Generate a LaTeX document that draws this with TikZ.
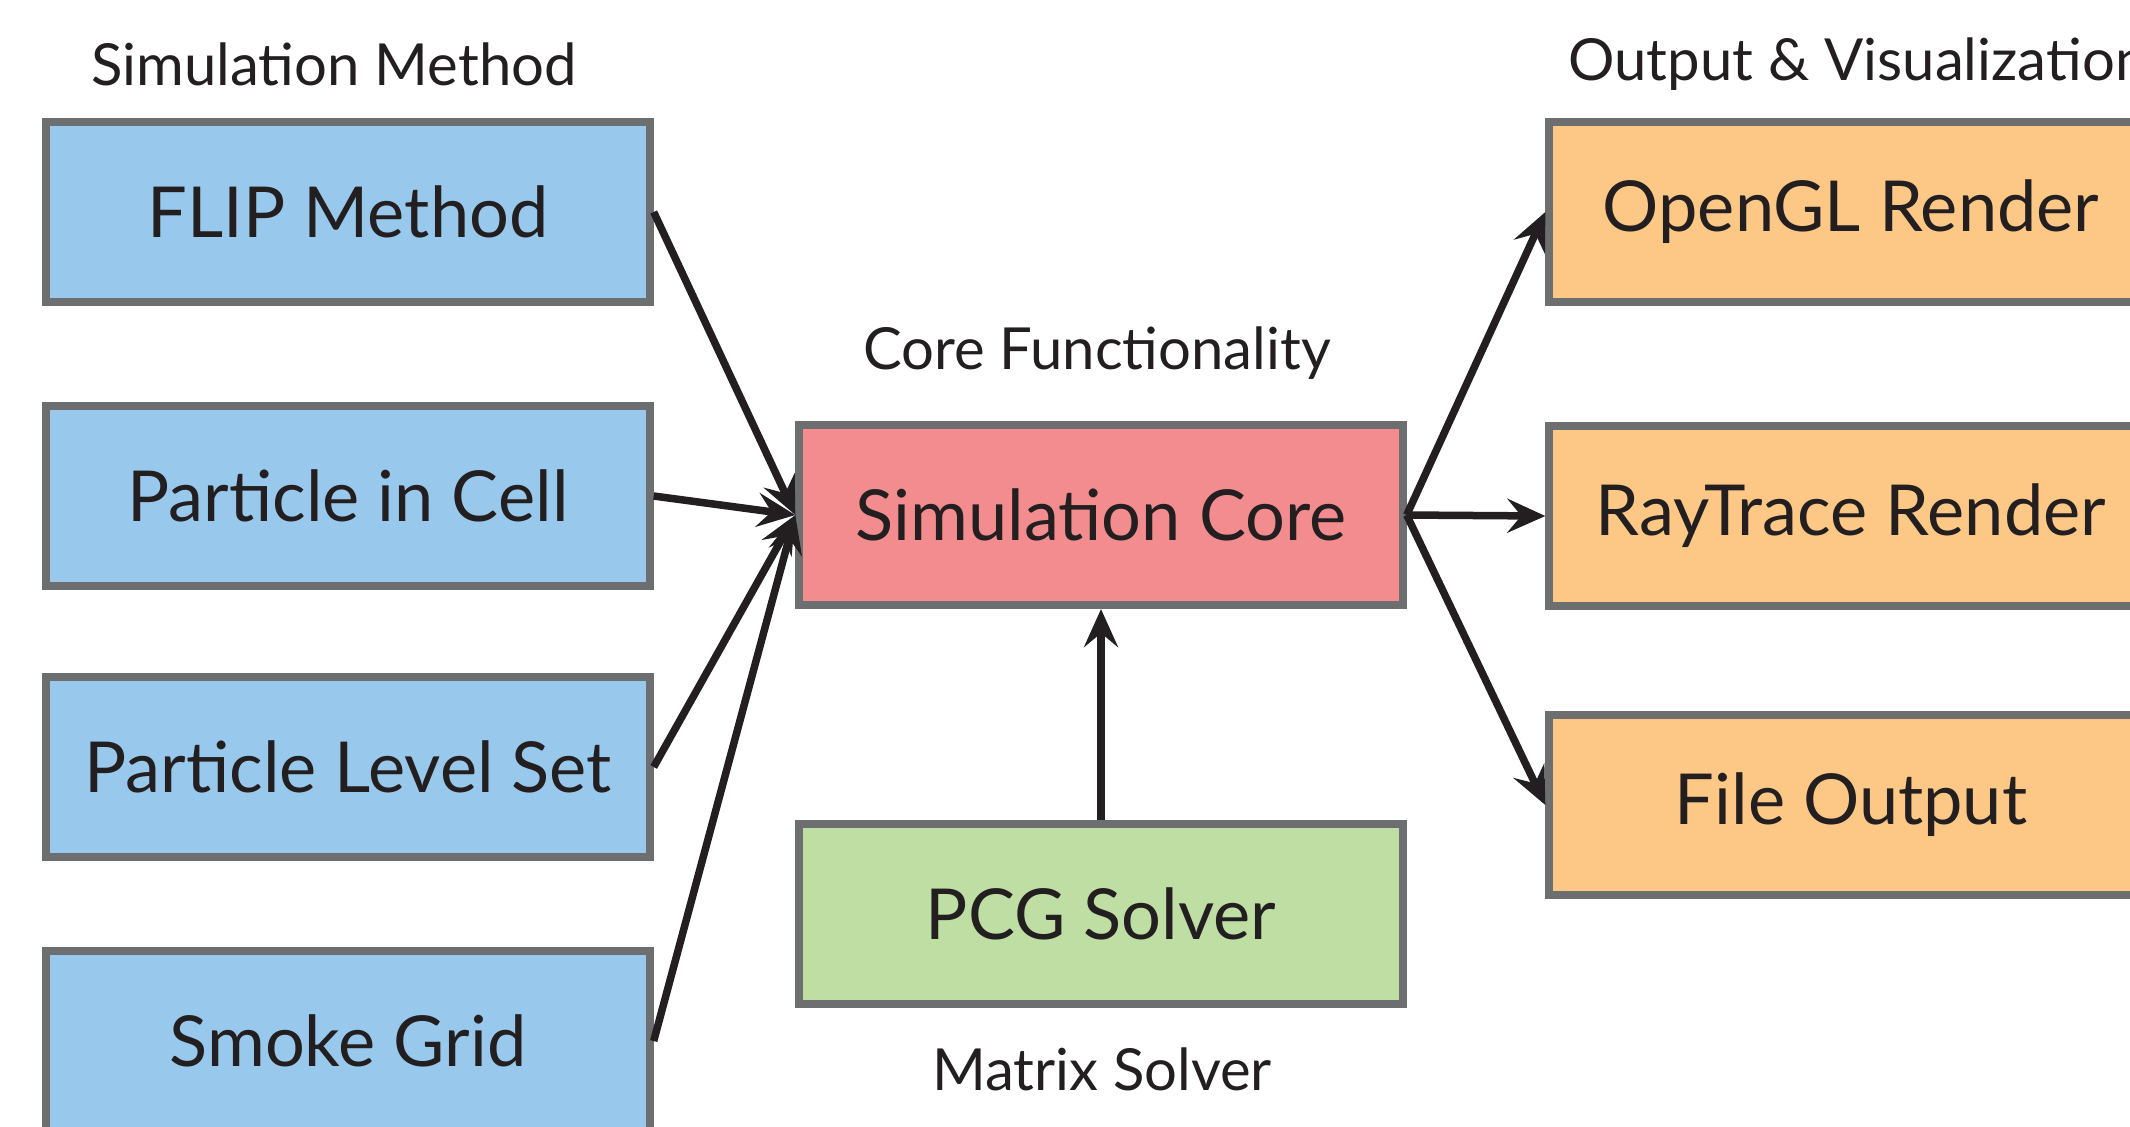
\documentclass[tikz,border=0pt]{standalone}
\usepackage{fontspec}
\setmainfont{Lato}
\usetikzlibrary{arrows.meta}

\definecolor{simblue}{HTML}{98C9EC}
\definecolor{corered}{HTML}{F28C8F}
\definecolor{outorange}{HTML}{FDC886}
\definecolor{solvegreen}{HTML}{BEDEA3}
\definecolor{boxgray}{HTML}{6D6E70}
\definecolor{inkblack}{HTML}{231F20}

\tikzset{
    block/.style = {draw = boxgray, line width = .08cm, minimum width = 6.03cm, minimum height = 1.8cm, text = inkblack, font = \fontsize{20}{24}\selectfont},
    caption/.style = {text = inkblack, font = \fontsize{16.5}{20}\selectfont},
    link/.style = {draw = inkblack, line width = .075cm, -{Stealth[length = .38cm, width = .34cm, inset = .14cm]}}
}

\begin{document}
\begin{tikzpicture}[x = .01cm, y = -.01cm]
                \useasboundingbox(0, 0) rectangle (2130, 1126);
                \clip(0, 0) rectangle (2130, 1126);

                \node[caption] (methodlbl) at (334, 64) {Simulation Method};
                \node[caption] (corelbl) at (1097, 353) {Core Functionality};
                \node[caption, anchor = west] (outlbl) at (1556, 64) {Output \& Visualization};
                \node[caption] (solverlbl) at (1102, 1069) {Matrix Solver};

                \node[block, fill = simblue] (flip) at (348, 212) {FLIP Method};
                \node[block, fill = simblue] (pic) at (348, 496) {Particle in Cell};
                \node[block, fill = simblue] (pls) at (348, 767) {Particle Level Set};
                \node[block, fill = simblue] (smoke) at (348, 1041) {Smoke Grid};

                \node[block, fill = corered] (core) at (1101, 515) {Simulation Core};
                \node[block, fill = solvegreen] (pcg) at (1101, 914) {PCG Solver};

                \node[block, fill = outorange] (gl) at (1851, 212) {OpenGL Render};
                \node[block, fill = outorange] (ray) at (1851, 516) {RayTrace Render};
                \node[block, fill = outorange] (file) at (1851, 805) {File Output};

                \draw[link](flip.east) to (core.west);
                \draw[link](pic.east) to (core.west);
                \draw[link](pls.east) to (core.west);
                \draw[link](smoke.east) to (core.west);

                \draw[link](pcg.north) to (core.south);

                \draw[link](core.east) to (gl.west);
                \draw[link](core.east) to (ray.west);
                \draw[link](core.east) to (file.west);
\end{tikzpicture}
\end{document}
